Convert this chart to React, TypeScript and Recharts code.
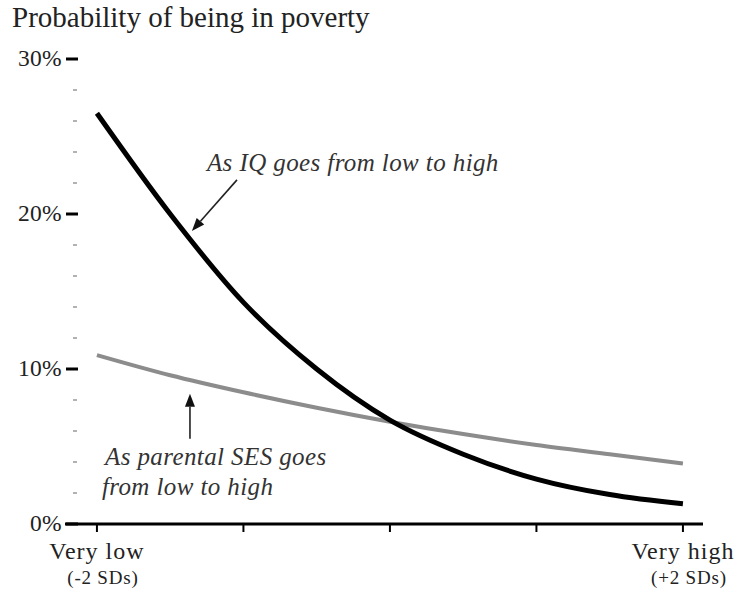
import React from "react";
import {
  LineChart,
  Line,
  XAxis,
  YAxis,
  ReferenceLine,
  ReferenceDot,
} from "recharts";

// x position in standard deviations, from very low to very high
const sdSteps = [-2, -1.5, -1, -0.5, 0, 0.5, 1, 1.5, 2];
// probability of being in poverty (%)
const iqCurve = [26.5, 20.0, 14.3, 10.0, 6.7, 4.5, 2.9, 1.9, 1.3];
const sesCurve = [10.9, 9.6, 8.5, 7.5, 6.6, 5.8, 5.1, 4.5, 3.9];

const yTicks = [0, 2, 4, 6, 8, 10, 12, 14, 16, 18, 20, 22, 24, 26, 28, 30];
const xTicks = [-2, -1, 0, 1, 2];
const xTickLabels: Record<number, [string, string]> = {
  [-2]: ["Very low", "(-2 SDs)"],
  [2]: ["Very high", "(+2 SDs)"],
};

const data = sdSteps.map((sd, i) => ({ sd, iq: iqCurve[i], ses: sesCurve[i] }));

const serif = "'Liberation Serif', 'Times New Roman', serif";

function YTick(props: any) {
  const { x, y, payload } = props;
  const major = payload.value % 10 === 0;
  if (!major) {
    return <line x1={x + 8} x2={x + 12} y1={y} y2={y} stroke="#999" strokeWidth={1.5} />;
  }
  return (
    <g>
      <line x1={x + 1} x2={x + 13} y1={y} y2={y} stroke="#000" strokeWidth={3} />
      <text
        x={x - 3}
        y={y + 7}
        textAnchor="end"
        fontFamily={serif}
        fontSize={23.5}
        letterSpacing={0.3}
        fill="#222"
      >
        {payload.value}%
      </text>
    </g>
  );
}

function XTick(props: any) {
  const { x, y, payload } = props;
  const lab = xTickLabels[payload.value];
  if (!lab) return null;
  return (
    <g>
      <text
        x={x}
        y={y + 27}
        textAnchor="middle"
        fontFamily={serif}
        fontSize={24}
        letterSpacing={1}
        fill="#222"
      >
        {lab[0]}
      </text>
      <text
        x={x + 6}
        y={y + 52}
        textAnchor="middle"
        fontFamily={serif}
        fontSize={19}
        letterSpacing={0.8}
        fill="#222"
      >
        {lab[1]}
      </text>
    </g>
  );
}

function Arrow(props: any) {
  const { x1, y1, x2, y2 } = props;
  if ([x1, y1, x2, y2].some((v) => v == null || isNaN(v))) return null;
  const a = Math.atan2(y2 - y1, x2 - x1);
  const len = 13;
  const w = 5;
  const bx = x2 - len * Math.cos(a);
  const by = y2 - len * Math.sin(a);
  const p1 = `${bx + w * Math.sin(a)},${by - w * Math.cos(a)}`;
  const p2 = `${bx - w * Math.sin(a)},${by + w * Math.cos(a)}`;
  return (
    <g>
      <line x1={x1} y1={y1} x2={bx} y2={by} stroke="#222" strokeWidth={1.6} />
      <polygon points={`${x2},${y2} ${p1} ${p2}`} fill="#111" />
    </g>
  );
}

const note = (text: string) => (p: any) => (
  <text
    x={p.cx}
    y={p.cy}
    fontFamily={serif}
    fontStyle="italic"
    fontSize={25}
    letterSpacing={0.4}
    fill="#333"
  >
    {text}
  </text>
);

export default function App() {
  return (
    <div style={{ position: "absolute", left: 0, top: 0, background: "#fff" }}>
      <div
        style={{
          position: "absolute",
          left: 12,
          top: 0,
          fontFamily: serif,
          fontSize: 29,
          lineHeight: "34px",
          color: "#222",
          whiteSpace: "nowrap",
        }}
      >
        Probability of being in poverty
      </div>
      <LineChart
        width={739}
        height={596}
        data={data}
        margin={{ top: 59, right: 36, bottom: 0, left: 0 }}
      >
        <XAxis
          dataKey="sd"
          type="number"
          domain={[-2.218, 2.137]}
          ticks={xTicks}
          allowDataOverflow
          height={72}
          axisLine={{ stroke: "#000", strokeWidth: 3 }}
          tickLine={{ stroke: "#000", strokeWidth: 2 }}
          tickSize={8}
          tickMargin={0}
          tick={<XTick />}
        />
        <YAxis
          type="number"
          domain={[0, 30]}
          ticks={yTicks}
          width={65}
          axisLine={false}
          tickLine={false}
          tickSize={0}
          tickMargin={0}
          interval={0}
          tick={<YTick />}
        />
        <Line
          dataKey="ses"
          type="monotone"
          stroke="#8c8c8c"
          strokeWidth={4}
          dot={false}
          isAnimationActive={false}
        />
        <Line
          dataKey="iq"
          type="monotone"
          stroke="#000"
          strokeWidth={5}
          dot={false}
          isAnimationActive={false}
        />
        <ReferenceLine
          segment={[
            { x: -1.044, y: 22.2 },
            { x: -1.352, y: 18.9 },
          ]}
          shape={<Arrow />}
        />
        <ReferenceLine
          segment={[
            { x: -1.365, y: 5.5 },
            { x: -1.365, y: 8.4 },
          ]}
          shape={<Arrow />}
        />
        <ReferenceDot x={-1.249} y={22.8} r={0} shape={note("As IQ goes from low to high")} />
        <ReferenceDot x={-1.945} y={3.8} r={0} shape={note("As parental SES goes")} />
        <ReferenceDot x={-1.966} y={1.86} r={0} shape={note("from low to high")} />
      </LineChart>
    </div>
  );
}
